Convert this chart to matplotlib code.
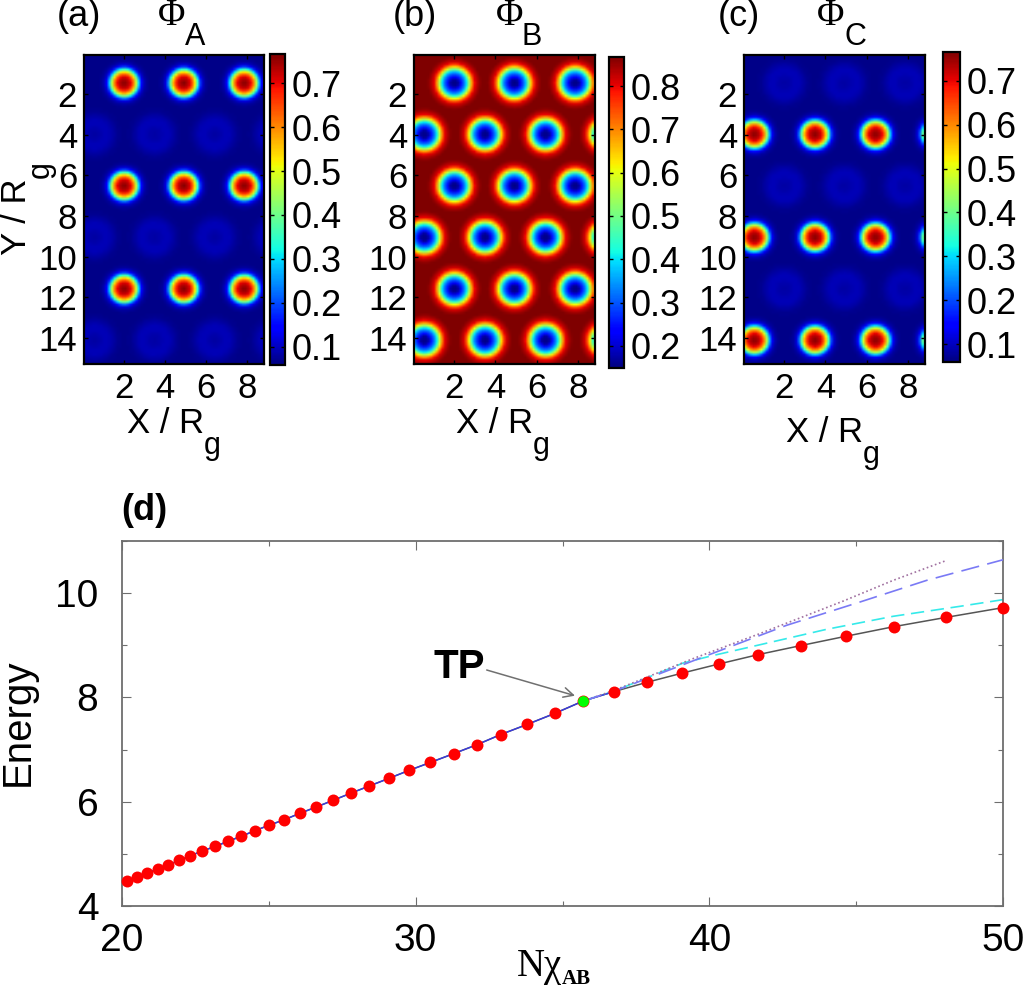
import numpy as np
import matplotlib
matplotlib.use("Agg")
import matplotlib.pyplot as plt
from matplotlib.ticker import MultipleLocator

# ---------- values ----------
x_ticks = [2, 4, 6, 8]
y_ticks = [2, 4, 6, 8, 10, 12, 14]
x_range = (0.05, 8.83)
y_range = (0.08, 15.27)
image_x_end = 8.74

# spot centres
upper_x = [1.94, 4.84, 7.78]
upper_y = [1.40, 6.46, 11.53]
lower_x = [0.49, 3.42, 6.35, 9.28]
lower_y = [3.92, 8.99, 14.05]

# radial profiles (distance, value)
spot_r = [0.00, 0.22, 0.33, 0.48, 0.57, 0.64, 0.71, 0.79, 0.88, 1.03, 1.22]
spot_phi = [0.765, 0.73, 0.70, 0.60, 0.50, 0.40, 0.30, 0.20, 0.12, 0.08, 0.066]
halo_r = [0.00, 0.25, 0.50, 0.75, 1.00, 1.20, 1.50]
halo_phi = [0.082, 0.086, 0.094, 0.092, 0.078, 0.068, 0.066]
matrix_r = [0.00, 0.20, 0.33, 0.50, 0.62, 0.70, 0.78, 0.88, 0.98, 1.14, 1.30]
matrix_phi = [0.15, 0.17, 0.25, 0.33, 0.42, 0.52, 0.62, 0.72, 0.80, 0.84, 0.867]

cbar_ranges = [(0.059, 0.766), (0.149, 0.867), (0.059, 0.766)]
cbar_ticks = [[0.1, 0.2, 0.3, 0.4, 0.5, 0.6, 0.7],
              [0.2, 0.3, 0.4, 0.5, 0.6, 0.7, 0.8],
              [0.1, 0.2, 0.3, 0.4, 0.5, 0.6, 0.7]]

# panel (d)
chi = [20.18, 20.51, 20.85, 21.22, 21.57, 21.94, 22.33, 22.73, 23.18, 23.60, 24.05,
       24.52, 25.02, 25.52, 26.05, 26.61, 27.18, 27.80, 28.41, 29.08, 29.77, 30.50,
       31.29, 32.09, 32.90, 33.79, 34.73, 35.71, 36.76, 37.88, 39.06, 40.33, 41.67,
       43.11, 44.64, 46.29, 48.07, 50.00]
energy = [4.485, 4.556, 4.632, 4.715, 4.785, 4.875, 4.964, 5.054, 5.144, 5.239, 5.335,
          5.443, 5.552, 5.653, 5.776, 5.897, 6.025, 6.165, 6.299, 6.446, 6.600, 6.753,
          6.921, 7.094, 7.289, 7.481, 7.692, 7.933, 8.113, 8.291, 8.464, 8.642, 8.822,
          8.994, 9.172, 9.358, 9.536, 9.722]
tp_chi, tp_energy = 35.71, 7.933
dotted_chi = [35.71, 36.76, 39.45, 41.72, 44.56, 46.26, 48.08]
dotted_energy = [7.933, 8.136, 8.745, 9.224, 9.848, 10.245, 10.628]
long_chi = [35.71, 36.76, 39.79, 42.63, 45.13, 47.40, 50.00]
long_energy = [7.933, 8.12, 8.776, 9.383, 9.83, 10.245, 10.64]
cyan_chi = [35.71, 36.76, 39.11, 40.02, 41.72, 43.99, 46.26, 48.53, 50.00]
cyan_energy = [7.933, 8.12, 8.66, 8.79, 9.01, 9.306, 9.556, 9.747, 9.875]

# ---------- layout helpers ----------
W, H = 1024, 989
plt.rcParams['font.family'] = ['Liberation Sans', 'DejaVu Sans']
fig = plt.figure(figsize=(W / 100, H / 100), dpi=100)


def box(x0, y0, x1, y1):
    return fig.add_axes([x0 / W, 1 - y1 / H, (x1 - x0) / W, (y1 - y0) / H])


def put(px, py, s, **kw):
    kw.setdefault('ha', 'center')
    kw.setdefault('va', 'center')
    return fig.text(px / W, 1 - py / H, s, **kw)


# ---------- fields ----------
gx = np.arange(x_range[0], image_x_end, 0.13)
gy = np.arange(y_range[0], y_range[1], 0.13)
GX, GY = np.meshgrid(gx, gy)


def nearest(xs, ys):
    d = [np.hypot(GX - a, GY - b) for a in xs for b in ys]
    return np.min(d, axis=0)


d_up = nearest(upper_x, upper_y)
d_lo = nearest(lower_x, lower_y)


def minority(d_spot, d_halo):
    return np.maximum(np.interp(d_spot, spot_r, spot_phi),
                      np.interp(d_halo, halo_r, halo_phi))


phi_a = minority(d_up, d_lo)
phi_c = minority(d_lo, d_up)
phi_b = np.interp(np.minimum(d_up, d_lo), matrix_r, matrix_phi)

panels = [
    dict(field=phi_a, ax=(84, 55, 264, 364), cb=(270, 54, 285, 365)),
    dict(field=phi_b, ax=(414, 55, 595, 364), cb=(609, 57, 624, 368)),
    dict(field=phi_c, ax=(744, 55, 925, 364), cb=(943, 52, 960, 362)),
]
for p, (lo, hi), ticks in zip(panels, cbar_ranges, cbar_ticks):
    ax = box(*p['ax'])
    im = ax.imshow(p['field'], cmap='jet', vmin=lo, vmax=hi, aspect='auto',
                   interpolation='bilinear', origin='upper',
                   extent=(x_range[0], image_x_end, y_range[1], y_range[0]))
    ax.set_xlim(*x_range)
    ax.set_ylim(y_range[1], y_range[0])
    ax.set_xticks(x_ticks)
    ax.set_yticks(y_ticks)
    ax.tick_params(direction='in', length=3, width=1, top=True, right=True,
                   labelsize=25)
    ax.tick_params(axis='x', pad=6)
    ax.tick_params(axis='y', pad=5)
    for s in ax.spines.values():
        s.set_linewidth(1.6)
    cax = box(*p['cb'])
    cb = fig.colorbar(im, cax=cax)
    cb.set_ticks(ticks)
    cb.set_ticklabels([f'{t:.1f}' for t in ticks])
    cax.tick_params(direction='in', length=3, width=1, left=True, right=True,
                    labelsize=26, pad=5)
    cb.outline.set_linewidth(1.6)

# panel titles
for px, s in [(79, '(a)'), (415, '(b)'), (739, '(c)')]:
    put(px, 17, s, fontsize=26)
serif = ['Liberation Serif', 'DejaVu Serif']
for px, sub_px, sub in [(172, 195, 'A'), (510, 532, 'B'), (831, 855, 'C')]:
    put(px, 16, 'Φ', fontsize=27, family=serif)
    put(sub_px, 37, sub, fontsize=22)

# axis names of the maps
for px, py, g_px, g_py in [(166, 424, 212, 446), (495, 424, 541, 446), (825, 432, 871, 455)]:
    put(px, py, 'X / R', fontsize=25)
    put(g_px, g_py, 'g', fontsize=22)
put(17, 217, 'Y / R', fontsize=25, rotation=90)
put(41, 170, 'g', fontsize=22, rotation=90)

# ---------- panel (d) ----------
ax = box(122, 541, 1003, 906)
grey = '#6e6e6e'
ax.plot(chi, energy, color='#555555', lw=1.1, zorder=2)
ax.plot(chi[:29], energy[:29], color='#3a3ae0', lw=1.0, zorder=3)
ax.plot(dotted_chi, dotted_energy, color='#a070a0', lw=1.2, ls=(0, (1, 1.6)), zorder=3)
ax.plot(long_chi, long_energy, color='#7a7af5', lw=1.2, ls=(0, (11, 5)), zorder=3)
ax.plot(cyan_chi, cyan_energy, color='#35eaea', lw=1.2, ls=(0, (8, 4)), zorder=2.5)
ax.plot(chi, energy, ls='none', marker='o', ms=8.6, color='#ff0000', mew=0,
        zorder=5, clip_on=False)
ax.plot([tp_chi], [tp_energy], ls='none', marker='o', ms=7.8, color='#00ff00', mew=0, zorder=6)
ax.set_xlim(20, 50)
ax.set_ylim(4, 11)
ax.xaxis.set_major_locator(MultipleLocator(10))
ax.xaxis.set_minor_locator(MultipleLocator(5))
ax.yaxis.set_major_locator(MultipleLocator(2))
ax.yaxis.set_minor_locator(MultipleLocator(1))
ax.tick_params(which='major', direction='in', length=6.5, width=0.8, color=grey,
               top=True, right=True, labelsize=28)
ax.tick_params(which='minor', direction='in', length=3.5, width=0.8, color=grey,
               top=True, right=True)
ax.tick_params(axis='x', which='major', pad=12)
ax.tick_params(axis='y', which='major', pad=17)
for s in ax.spines.values():
    s.set_color(grey)
    s.set_linewidth(1.3)

ax.annotate('', xy=(fig.transFigure.inverted().transform((575, H - 695.7))),
            xycoords='figure fraction',
            xytext=(fig.transFigure.inverted().transform((486.7, H - 670))),
            textcoords='figure fraction',
            arrowprops=dict(arrowstyle='->,head_length=0.7,head_width=0.35',
                            color='#707070', lw=1.1, shrinkA=0, shrinkB=0))
put(459, 667, 'TP', fontsize=29, fontweight='bold')
put(144, 511, '(d)', fontsize=26, fontweight='bold')
put(18, 722, 'Energy', fontsize=29, rotation=90)
put(539, 976, 'Nχ', fontsize=28, family=serif, va='baseline')
put(576, 984, 'AB', fontsize=15, family=serif, fontweight='bold', va='baseline')

fig.savefig('out.png', dpi=100, facecolor='white')
